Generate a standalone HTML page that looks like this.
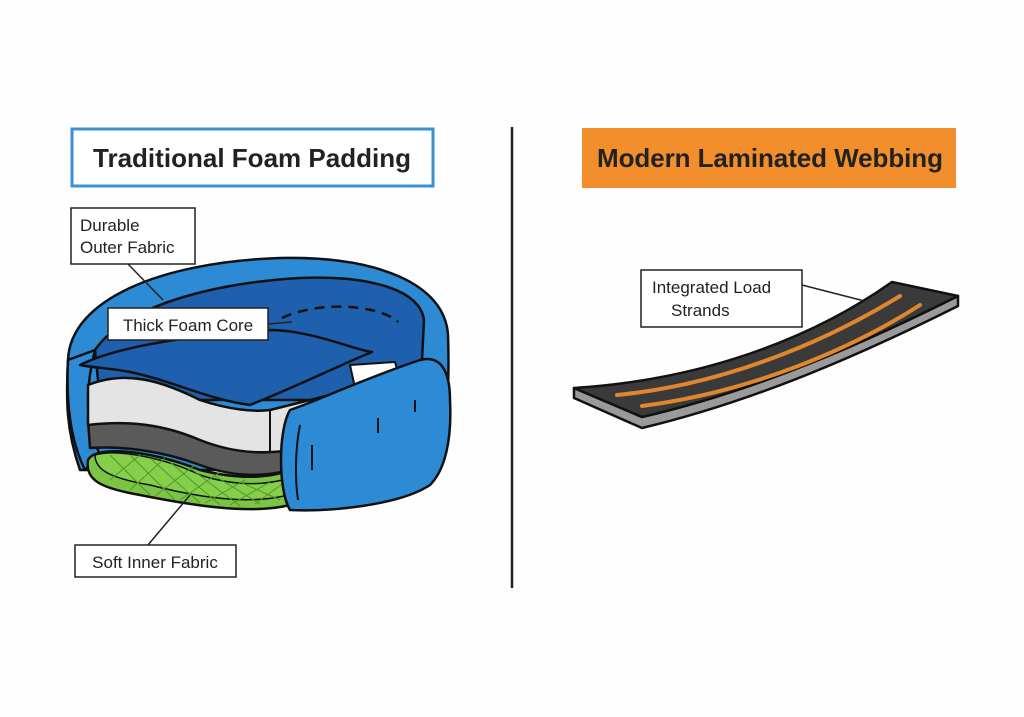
<!DOCTYPE html>
<html><head><style>
body{margin:0;background:#fff}
svg{display:block}
text{font-family:"Liberation Sans",sans-serif;fill:#222}
</style></head><body>
<svg width="1024" height="717" viewBox="0 0 1024 717" xmlns="http://www.w3.org/2000/svg">
<rect width="1024" height="717" fill="#fefefe"/>
<rect x="72" y="129" width="361" height="57" fill="#fff" stroke="#3a8fd6" stroke-width="3"/>
<text x="252" y="167" font-size="26" text-anchor="middle" font-weight="bold" fill="#222" textLength="318">Traditional Foam Padding</text>
<rect x="582" y="128" width="374" height="60" fill="#f28f2c"/>
<text x="770" y="167" font-size="26" text-anchor="middle" font-weight="bold" fill="#2a1a10" textLength="346">Modern Laminated Webbing</text>
<line x1="512" y1="127" x2="512" y2="588" stroke="#222" stroke-width="2.5"/>

<g stroke="#111" stroke-width="2.5" stroke-linejoin="round">
<path d="M68,360 C70,300 160,262 280,258 C380,256 445,285 448,335 C450,390 445,450 440,470 L270,470 L80,470 C66,430 66,400 68,360 Z" fill="#2d8ad4"/>
<path d="M95,350 C130,300 230,282 300,278 C370,275 420,290 424,320 L420,400 L100,400 Z" fill="#1e5fae"/>
<path d="M282,318 C320,300 380,305 398,322" fill="none" stroke-dasharray="10,7"/>
<path d="M68,360 C66,400 70,440 85,470 L100,455 C85,420 85,390 95,350 Z" fill="#2d8ad4"/>
<path d="M88,460 C95,445 150,450 200,470 C240,480 270,478 290,470 L290,505 C250,515 190,505 140,495 C100,488 85,480 88,460 Z" fill="#7cc443"/>
<path d="M95,455 C120,448 170,460 200,475 C240,488 270,484 290,478 L288,495 C250,505 200,498 150,485 C110,478 95,470 95,455 Z" fill="#86cf4a" stroke-width="1.5"/>
<g stroke="#4e9a2a" stroke-width="1" fill="none">
<path d="M110,455 L150,495 M130,455 L175,500 M150,458 L200,503 M170,462 L220,505 M190,468 L240,506 M215,476 L260,504 M240,482 L280,500 M110,480 L140,455 M130,490 L165,458 M155,496 L195,465 M180,500 L220,472 M205,503 L245,480 M230,505 L270,482 M255,504 L285,482"/>
</g>
<path d="M88,420 C120,415 170,425 200,440 C230,452 265,452 290,448 L290,470 C260,478 230,476 200,465 C160,450 120,446 90,448 Z" fill="#5a5a5a"/>
<path d="M88,385 C130,368 170,385 200,400 C230,410 255,412 270,410 L370,385 L390,395 L290,425 L290,450 C260,455 230,452 200,440 C165,425 130,420 88,425 Z" fill="#e4e4e4"/>
<path d="M88,385 C130,368 170,385 200,400 C230,410 255,412 270,410 L270,452" fill="none" stroke-width="2"/>
<path d="M350,365 L395,362 L400,380 L355,388 Z" fill="#fff" stroke-width="2"/>
<path d="M80,365 C120,345 200,335 270,330 C310,330 355,350 372,352 C340,365 300,385 250,405 C210,400 170,380 130,372 C110,368 95,368 80,365 Z" fill="#1e5fae"/>
<path d="M290,410 C320,400 360,380 420,360 C440,355 450,370 450,400 C452,440 445,470 430,485 C400,505 330,512 290,510 C278,490 278,430 290,410 Z" fill="#2d8ad4"/>
<path d="M300,425 C295,450 295,480 298,500" fill="none" stroke-width="2"/>
<line x1="378" y1="418" x2="378" y2="433" stroke-width="2"/>
<line x1="415" y1="400" x2="415" y2="412" stroke-width="2"/>
<line x1="312" y1="445" x2="312" y2="470" stroke-width="2"/>
</g>
<g stroke="#222" stroke-width="1.5">
<line x1="128" y1="264" x2="163" y2="300"/>
<line x1="190" y1="495" x2="148" y2="545"/>
<line x1="268" y1="324" x2="292" y2="322"/>
<line x1="802" y1="285" x2="880" y2="305"/>
</g>
<rect x="71" y="208" width="124" height="56" fill="#fff" stroke="#222" stroke-width="1.5"/>
<text x="80" y="231" font-size="17">Durable</text>
<text x="80" y="253" font-size="17">Outer Fabric</text>
<rect x="108" y="308" width="160" height="32" fill="#fff" stroke="#222" stroke-width="1.5"/>
<text x="188" y="331" font-size="17" text-anchor="middle">Thick Foam Core</text>
<rect x="75" y="545" width="161" height="32" fill="#fff" stroke="#222" stroke-width="1.5"/>
<text x="155" y="568" font-size="17" text-anchor="middle">Soft Inner Fabric</text>

<g stroke="#111" stroke-width="2.5" stroke-linejoin="round">
<path d="M574,388 L574,398 L642,428 C760,400 870,350 958,306 L958,296 C870,340 760,390 642,417 Z" fill="#9a9a9a"/>
<path d="M574,388 C700,380 810,340 892,282 L958,296 C870,340 760,390 642,417 Z" fill="#3a3a3a"/>
</g>
<g stroke="#e0862e" stroke-width="4" fill="none" stroke-linecap="round">
<path d="M617,395 C720,385 820,345 900,296"/>
<path d="M642,406 C750,392 850,350 920,305"/>
</g>
<rect x="641" y="270" width="161" height="57" fill="#fff" stroke="#222" stroke-width="1.5"/>
<text x="652" y="293" font-size="17">Integrated Load</text>
<text x="671" y="316" font-size="17">Strands</text>
</svg>
</body></html>
